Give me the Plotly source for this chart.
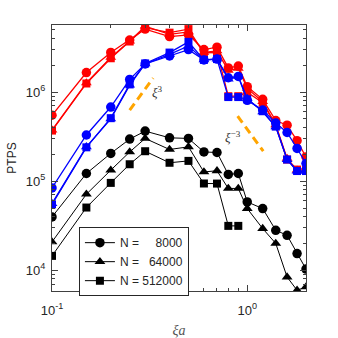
import numpy as np
import plotly.graph_objects as go

# xi*a sample points
xi_a = [0.1, 0.15, 0.2, 0.25, 0.3, 0.4, 0.5, 0.6, 0.7, 0.8, 0.9, 1.0, 1.2, 1.4, 1.6, 1.8, 2.0]

# red set
red_circle = [5.5e5, 1.66e6, 2.79e6, 3.84e6, 5.1e6, 4.2e6, 4.4e6, 3.0e6, 3.2e6, 1.87e6, 1.96e6,
              1.15e6, 8.3e5, 4.8e5, 4.25e5, 2.85e5, 1.87e5]
red_tri = [3.75e5, 1.27e6, 2.45e6, 3.74e6, 5.5e6, 4.45e6, 4.75e6, 2.8e6, 2.9e6, 1.75e6, 1.85e6,
           1.1e6, 7.8e5, 4.3e5, 1.8e5, 1.33e5, 1.35e5]
red_sq = [3.7e5, 1.25e6, 2.4e6, 3.7e6, 5.3e6, 4.65e6, 5.1e6, 2.75e6, 2.8e6, 9.0e5, 9.0e5,
          1.0e6, 7.6e5, 4.2e5, 1.75e5, 1.35e5, 1.4e5]

# blue set
blue_circle = [8.4e4, 3.3e5, 6.8e5, 1.39e6, 2.07e6, 2.55e6, 3.0e6, 2.3e6, 2.35e6, 1.45e6, 1.5e6,
               8.1e5, 6.3e5, 4.5e5, 3.52e5, 2.33e5, 1.58e5]
blue_tri = [5.6e4, 2.43e5, 5.0e5, 1.2e6, 2.07e6, 2.65e6, 3.3e6, 2.3e6, 2.35e6, 1.4e6, 1.5e6,
            8.5e5, 6.0e5, 4.07e5, 1.75e5, 1.3e5, 1.3e5]
blue_sq = [5.5e4, 2.4e5, 5.1e5, 1.22e6, 2.1e6, 2.78e6, 3.67e6, 2.3e6, 2.35e6, 8.8e5, 8.8e5,
           8.3e5, 6.1e5, 4.1e5, 1.75e5, 1.3e5, 1.3e5]

# black set (legend)
black_circle = [3.97e4, 1.22e5, 2.05e5, 2.97e5, 3.65e5, 3.07e5, 3.02e5, 2.13e5, 2.1e5, 1.19e5,
                1.22e5, 5.85e4, 4.93e4, 2.81e4, 2.47e4, 1.54e4, 1.03e4]
black_tri = [2.08e4, 7.14e4, 1.33e5, 2.13e5, 3.02e5, 2.27e5, 2.43e5, 1.27e5, 1.31e5, 8.28e4,
             8.3e4, 4.93e4, 2.94e4, 2.0e4, 8.4e3, 5.96e3, 6.5e3]
black_sq = [1.45e4, 5.06e4, 9.57e4, 1.55e5, 2.17e5, 1.61e5, 1.69e5, 9.42e4, 9.4e4, 3.15e4, 3.15e4]

legend_names = ["N = \u00a0\u00a0\u00a0\u00a08000", "N = \u00a0\u00a064000", "N = 512000"]

# guide lines xi^3 and xi^-3
guide_up_x = [0.25, 0.33]
guide_up_y = [6.28e5, 1.44e6]
guide_down_x = [0.893, 1.208]
guide_down_y = [5.37e5, 2.17e5]

fig = go.Figure()

sets = [
    ("#ff0000", [red_circle, red_tri, red_sq], False, 1.3),
    ("#0000ff", [blue_circle, blue_tri, blue_sq], False, 1.3),
    ("#000000", [black_circle, black_tri, black_sq], True, 1.0),
]
symbols = ["circle", "triangle-up", "square"]

for color, series, show, lw in sets:
    for ys, sym, name in zip(series, symbols, legend_names):
        fig.add_trace(go.Scatter(
            x=xi_a[:len(ys)], y=ys, mode="lines+markers", name=name,
            line=dict(color=color, width=lw),
            marker=dict(symbol=sym, color=color, size=9.5 if sym != "square" else 8),
            showlegend=show,
        ))

for gx, gy in [(guide_up_x, guide_up_y), (guide_down_x, guide_down_y)]:
    fig.add_trace(go.Scatter(x=gx, y=gy, mode="lines", showlegend=False,
                             line=dict(color="#ffa500", width=3, dash="8px,5px")))

serif = "Liberation Serif, Times New Roman, serif"
fig.add_annotation(x=np.log10(0.345), y=np.log10(1.0e6), text="<i>ξ</i><sup>3</sup>",
                   showarrow=False, font=dict(family=serif, size=13, color="#333333"))
fig.add_annotation(x=np.log10(0.85), y=np.log10(3.1e5), text="<i>ξ</i><sup>−3</sup>",
                   showarrow=False, font=dict(family=serif, size=13, color="#333333"))

axcol = "#404040"
xminor = [m * 10 ** d for d in (-1, 0) for m in range(2, 10) if m * 10 ** d <= 2.0]
yminor = [m * 10 ** d for d in (3, 4, 5, 6) for m in range(2, 10) if 5.8e3 <= m * 10 ** d <= 5.7e6]

fig.update_xaxes(
    type="log", range=[-1, np.log10(2.0)], automargin=False,
    tickmode="array", tickvals=[0.1, 1], ticktext=["10<sup>-1</sup>", "10<sup>0</sup>"],
    tickfont=dict(size=13),
    ticks="inside", ticklen=6, tickcolor=axcol, showline=True, linecolor=axcol, linewidth=1,
    mirror="allticks", showgrid=False, zeroline=False, ticklabelstandoff=7,
    minor=dict(tickmode="array", tickvals=xminor, ticks="inside", ticklen=3, tickcolor=axcol, showgrid=False),
    title=dict(text="<i>ξa</i>", font=dict(family=serif, size=14, color="#555555"), standoff=8),
)
fig.update_yaxes(
    type="log", range=[np.log10(5.85e3), np.log10(5.67e6)], automargin=False,
    tickmode="array", tickvals=[1e4, 1e5, 1e6],
    ticktext=["10<sup>4</sup>", "10<sup>5</sup>", "10<sup>6</sup>"],
    tickfont=dict(size=13),
    ticks="inside", ticklen=6, tickcolor=axcol, showline=True, linecolor=axcol, linewidth=1,
    mirror="allticks", showgrid=False, zeroline=False, ticklabelstandoff=3,
    minor=dict(tickmode="array", tickvals=yminor, ticks="inside", ticklen=3, tickcolor=axcol, showgrid=False),
    title=dict(text="PTPS", font=dict(size=12, color="#262626"), standoff=6),
)

fig.update_layout(
    width=338, height=338,
    margin=dict(l=52, r=32, t=25, b=47),
    paper_bgcolor="white", plot_bgcolor="white",
    font=dict(family="Liberation Sans, Arial, sans-serif", size=12, color="#262626"),
    legend=dict(x=0.106, y=0.24, xanchor="left", yanchor="top",
                bordercolor="#262626", borderwidth=1, bgcolor="white",
                font=dict(size=12), itemwidth=30, tracegroupgap=0),
)

fig.write_html("out.html", config={"displayModeBar": False},
               post_script="document.body.style.margin='0';")
